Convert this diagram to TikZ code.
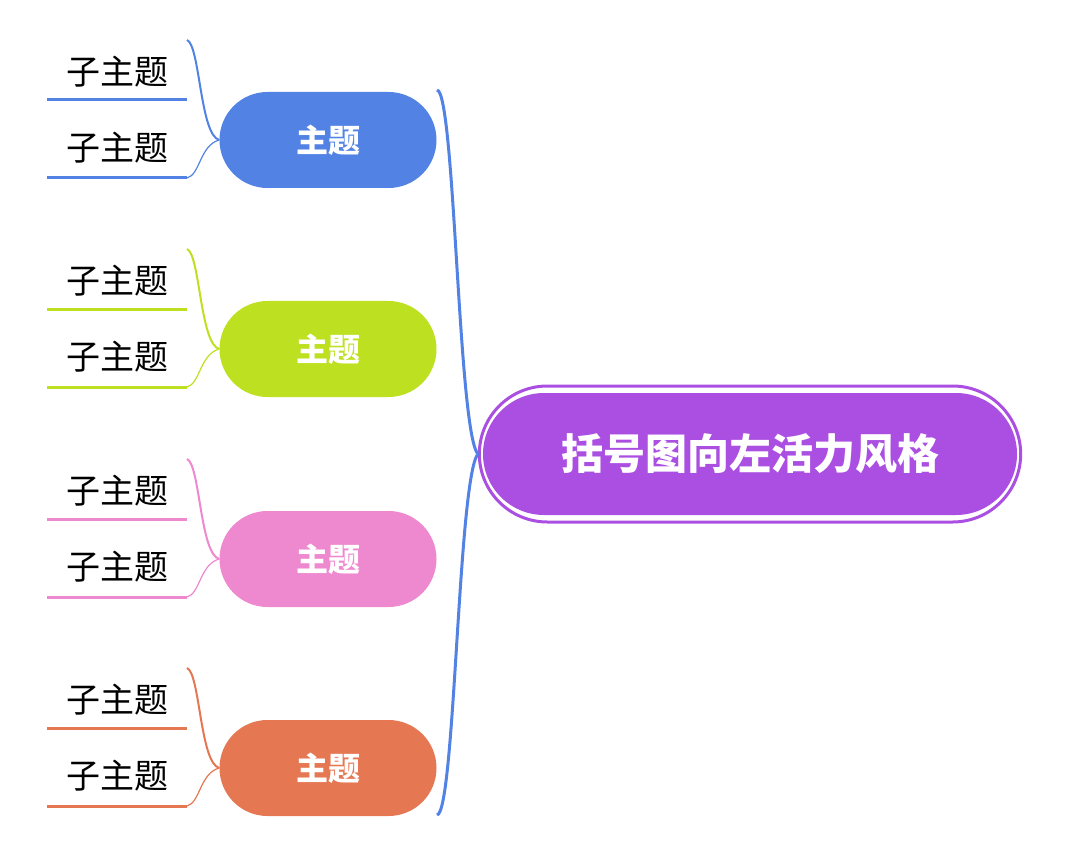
\documentclass[tikz,border=0pt]{standalone}
\usepackage{fontspec}
\setmainfont{Noto Sans CJK SC}
\usetikzlibrary{shapes.misc}
\definecolor{cpur}{HTML}{AA4FE2}
\definecolor{cblue}{HTML}{5283E4}
\definecolor{clime}{HTML}{BDE021}
\definecolor{cpink}{HTML}{EE88CF}
\definecolor{corg}{HTML}{E57752}
\begin{document}
\begin{tikzpicture}[x=1pt,y=-1pt,
  topic/.style={rounded rectangle,minimum width=217pt,minimum height=96pt,text=white,font=\fontsize{32}{36}\selectfont\bfseries,inner sep=0pt},
  sub/.style={font=\fontsize{34}{38}\selectfont,inner sep=0pt},
  br/.style={line width=2pt}]
\useasboundingbox (0,0) rectangle (1075,858);
\node[rounded rectangle,minimum width=548pt,minimum height=136pt,draw=cpur,line width=3pt,fill=white] (c0) at (750,454) {};
\node[rounded rectangle,minimum width=534pt,minimum height=122pt,fill=cpur,text=white,font=\fontsize{42}{46}\selectfont\bfseries,inner sep=0pt] (c) at (750,454) {括号图向左活力风格};
\coordinate (bt) at (437,90);
\coordinate (bb) at (437,815);
\draw[cblue,line width=3pt] (bt) .. controls (455,92) and (458,430) .. (c0.west);
\draw[cblue,line width=3pt] (bb) .. controls (455,813) and (458,480) .. (c0.west);
\foreach \i/\y/\col in {1/140/cblue,2/349/clime,3/559/cpink,4/768/corg}{
  \node[topic,fill=\col] (t\i) at (328,\y) {主题};
  \node[sub] (s\i a) at (117,\y-68) {子主题};
  \node[sub] (s\i b) at (117,\y+8) {子主题};
  \coordinate (u\i a1) at (47,\y-40);
  \coordinate (u\i a2) at (187,\y-40);
  \coordinate (u\i b1) at (47,\y+38);
  \coordinate (u\i b2) at (187,\y+38);
  \coordinate (top\i) at (187,\y-100);
  \draw[\col,line width=3pt] (u\i a1) -- (u\i a2);
  \draw[\col,line width=3pt] (u\i b1) -- (u\i b2);
  \draw[\col,line width=2pt] (top\i) .. controls (200,\y-95) and (200,\y-5) .. (t\i.west);
  \draw[\col,line width=1.2pt] (u\i b2) .. controls (200,\y+35) and (200,\y+5) .. (t\i.west);
}
\end{tikzpicture}
\end{document}
